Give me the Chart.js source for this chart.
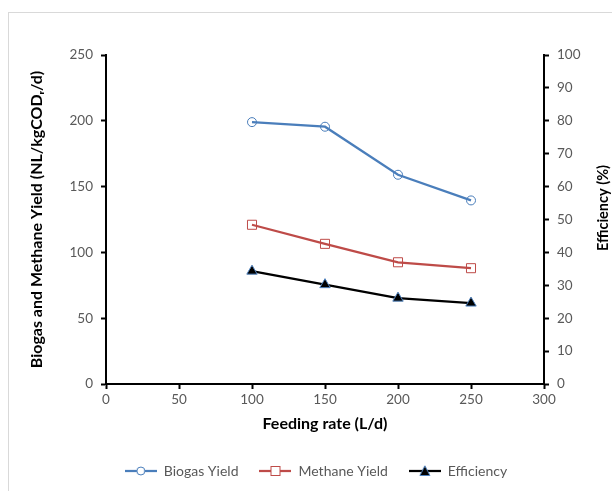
<!DOCTYPE html>
<html>
<head>
<meta charset="utf-8">
<script src="https://cdn.jsdelivr.net/npm/chart.js@4/dist/chart.umd.min.js"></script>
<style>
html,body{margin:0;padding:0;background:#ffffff;}
#wrap{width:612px;height:491px;position:relative;}
</style>
</head>
<body>
<div id="wrap"><canvas id="c" width="612" height="491"></canvas></div>
<script>
// ---- data ----
const feedingRate  = [100, 150, 200, 250];
const biogasYield  = [199, 195.5, 159, 139.5];
const methaneYield = [121, 106.5, 92.5, 88];
const efficiency   = [34.3, 30.2, 26.1, 24.6];

const xTicks     = [0, 50, 100, 150, 200, 250, 300];
const leftTicks  = [0, 50, 100, 150, 200, 250];
const rightTicks = [0, 10, 20, 30, 40, 50, 60, 70, 80, 90, 100];

const seriesNames = ['Biogas Yield', 'Methane Yield', 'Efficiency'];
const xTitle = 'Feeding rate (L/d)';
const leftTitle = 'Biogas and Methane Yield (NL/kgCOD\u1D63/d)';
const rightTitle = 'Efficiency (%)';

// ---- styles ----
const FONT = 'Lato, "Open Sans", "DejaVu Sans", sans-serif';
const GRAY = '#595959';
const BLUE = '#4a7ebb';
const RED = '#be4b48';
const TRI_EDGE = '#4f81bd';

Chart.defaults.font.family = FONT;
Chart.defaults.color = GRAY;

function pts(ys) { return feedingRate.map((x, i) => ({ x: x, y: ys[i] })); }

function legendIcon(color, style, fill, edge) {
  const cv = document.createElement('canvas');
  cv.width = 32; cv.height = 12;
  const g = cv.getContext('2d');
  g.strokeStyle = color; g.lineWidth = 2.25;
  g.beginPath(); g.moveTo(0, 6); g.lineTo(32, 6); g.stroke();
  g.lineWidth = 1;
  if (style === 'circle') {
    g.fillStyle = '#fff'; g.strokeStyle = color;
    g.beginPath(); g.arc(16, 6, 4, 0, Math.PI * 2); g.fill(); g.stroke();
  } else if (style === 'rect') {
    g.fillStyle = '#fff'; g.strokeStyle = color;
    g.fillRect(11.5, 1.5, 9, 9); g.strokeRect(11.5, 1.5, 9, 9);
  } else {
    g.fillStyle = fill; g.strokeStyle = edge;
    g.beginPath(); g.moveTo(16, 0.8); g.lineTo(21, 10.5); g.lineTo(11, 10.5); g.closePath();
    g.fill(); g.stroke();
  }
  return cv;
}
const icons = [
  legendIcon(BLUE, 'circle'),
  legendIcon(RED, 'rect'),
  legendIcon('#000', 'triangle', '#000', TRI_EDGE)
];

const frame = {
  id: 'frame',
  beforeDraw(chart) {
    const ctx = chart.ctx;
    ctx.save();
    ctx.fillStyle = '#ffffff';
    ctx.fillRect(0, 0, chart.width, chart.height);
    ctx.strokeStyle = '#d9d9d9';
    ctx.lineWidth = 1;
    ctx.strokeRect(8.5, 12.5, 800, 800);
    ctx.restore();
  },
  afterDraw(chart) {
    const ctx = chart.ctx;
    ctx.save();
    ctx.translate(603, 208);
    ctx.rotate(-Math.PI / 2);
    ctx.font = 'bold 14.5px ' + FONT;
    ctx.fillStyle = '#000';
    ctx.textAlign = 'center';
    ctx.textBaseline = 'middle';
    ctx.fillText(rightTitle, 0, 0);
    ctx.restore();
  }
};

const axisCommon = {
  grid: { drawOnChartArea: false, drawTicks: true, tickLength: 5, tickWidth: 2, tickColor: '#000' },
  border: { display: true, color: '#000', width: 2 }
};

new Chart(document.getElementById('c'), {
  type: 'line',
  data: {
    datasets: [
      {
        label: seriesNames[0], data: pts(biogasYield), yAxisID: 'y',
        borderColor: BLUE, backgroundColor: BLUE, borderWidth: 2.25,
        pointStyle: 'circle', pointRadius: 4.5, pointHoverRadius: 4.5,
        pointBorderWidth: 1, pointBorderColor: BLUE, pointBackgroundColor: 'rgba(255,255,255,0)'
      },
      {
        label: seriesNames[1], data: pts(methaneYield), yAxisID: 'y',
        borderColor: RED, backgroundColor: RED, borderWidth: 2.25,
        pointStyle: 'rect', pointRadius: 6.4, pointHoverRadius: 6.4,
        pointBorderWidth: 1, pointBorderColor: RED, pointBackgroundColor: 'rgba(255,255,255,0)'
      },
      {
        label: seriesNames[2], data: pts(efficiency), yAxisID: 'y1',
        borderColor: '#000', backgroundColor: '#000', borderWidth: 2.25,
        pointStyle: 'triangle', pointRadius: 6, pointHoverRadius: 6,
        pointBorderWidth: 1, pointBorderColor: TRI_EDGE, pointBackgroundColor: '#000'
      }
    ]
  },
  options: {
    responsive: false,
    animation: false,
    devicePixelRatio: 1,
    layout: { padding: { top: 55, right: 0, bottom: 3, left: 20 } },
    plugins: {
      tooltip: { enabled: false },
      legend: {
        position: 'bottom',
        labels: {
          usePointStyle: true,
          pointStyleWidth: 32,
          boxHeight: 12,
          padding: 21,
          color: GRAY,
          font: { size: 14, family: FONT },
          generateLabels(chart) {
            return chart.data.datasets.map((ds, i) => ({
              text: ds.label, pointStyle: icons[i], fillStyle: ds.borderColor,
              strokeStyle: ds.borderColor, lineWidth: 0, hidden: false, datasetIndex: i,
              fontColor: GRAY
            }));
          }
        }
      }
    },
    scales: {
      x: Object.assign({}, axisCommon, {
        type: 'linear', position: 'bottom', min: 0, max: 300,
        afterBuildTicks(s) { s.ticks = xTicks.map(v => ({ value: v })); },
        afterFit(s) {
          const lh = (s.chart.legend && s.chart.legend.height) ? s.chart.legend.height : 44;
          s.height = 491 - 3 - lh - 384;
        },
        ticks: { color: GRAY, font: { size: 13.5 }, padding: 3, maxRotation: 0, autoSkip: false },
        title: { display: true, text: xTitle, color: '#000', font: { size: 16, weight: 'bold' }, padding: { top: 0, bottom: 10 } }
      }),
      y: Object.assign({}, axisCommon, {
        type: 'linear', position: 'left', min: 0, max: 250,
        afterBuildTicks(s) { s.ticks = leftTicks.map(v => ({ value: v })); },
        afterFit(s) { s.width = 86; },
        ticks: { color: GRAY, font: { size: 13.5 }, padding: 8, autoSkip: false },
        title: { display: true, text: leftTitle, color: '#000', font: { size: 16, weight: 'bold' }, padding: { top: 7, bottom: 0 } }
      }),
      y1: Object.assign({}, axisCommon, {
        type: 'linear', position: 'right', min: 0, max: 100,
        afterBuildTicks(s) { s.ticks = rightTicks.map(v => ({ value: v })); },
        afterFit(s) { s.width = 68; },
        ticks: { color: GRAY, font: { size: 13.5 }, padding: 8, autoSkip: false }
      })
    }
  },
  plugins: [frame]
});
</script>
</body>
</html>
